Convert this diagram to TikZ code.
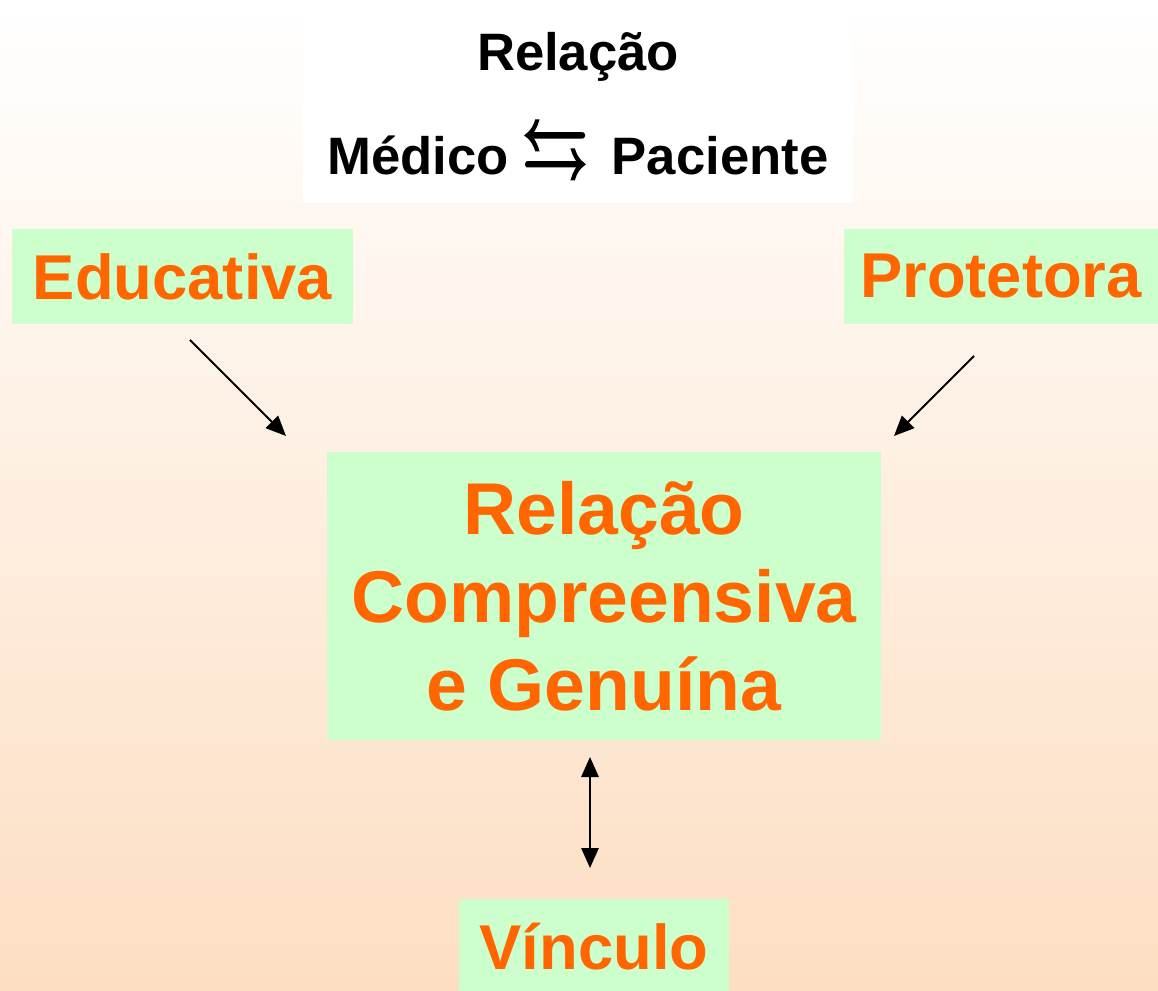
\documentclass[tikz,border=0pt]{standalone}
\usepackage{amssymb}
\usepackage{fontspec}
\setmainfont{Liberation Sans}
\usetikzlibrary{arrows.meta}
\definecolor{peach}{RGB}{253,222,194}
\definecolor{mint}{RGB}{204,255,204}
\definecolor{tangerine}{RGB}{255,102,0}
\tikzstyle{tile} = [fill=mint, inner sep=0pt, text=tangerine, font=\bfseries,
                    text centered]
\tikzstyle{side} = [tile, minimum height=71.25pt,
                    font=\fontsize{47.5}{57}\selectfont\bfseries]
\newcommand{\swap}{\raisebox{-3pt}[0pt][0pt]{%
  \resizebox{49pt}{44pt}{\special{pdf:literal direct 2 Tr 1.3 w}%
    $\leftrightarrows$\special{pdf:literal direct 0 Tr}}}}

\begin{document}
\begin{tikzpicture}[x=0.75pt, y=-0.75pt, line width=1.5pt,
                    >={Triangle[length=15pt,width=13pt]}]

% background
\shade[top color=white, bottom color=peach] (0,0) rectangle (1158,991);
\useasboundingbox (0,0) rectangle (1158,991);

% add nodes
\node [fill=white, inner sep=0pt, minimum width=412.5pt, minimum height=148.5pt,
       align=center, font=\fontsize{39.5}{78}\selectfont\bfseries]
      (title) at (578,104)
      {Relação\\Médico\hspace{10pt}\swap\hspace{18pt}Paciente};

\node [side, minimum width=255.75pt] (edu) at (182.5,276.5) {Educativa};
\node [side, minimum width=235.5pt]  (pro) at (1001,276.5) {Protetora};

\node [tile, minimum width=415.5pt, minimum height=216pt, align=center,
       font=\fontsize{55}{66}\selectfont\bfseries]
      (rel) at (604,596) {Relação\\Compreensiva\\e Genuína};

\node [side, minimum width=202.5pt, minimum height=72pt] (vin) at (594,947)
      {Vínculo};

% arrow ends
\coordinate (edu-out) at (190,340);
\coordinate (rel-in-l) at (286,436);
\coordinate (pro-out) at (974,356);
\coordinate (rel-in-r) at (894,436);
\coordinate (rel-out) at (590,757);
\coordinate (vin-in) at (590,868);

% add connections
\draw[->] (edu-out) -- (rel-in-l);
\draw[->] (pro-out) -- (rel-in-r);
\draw[<->] (rel-out) -- (vin-in);

\end{tikzpicture}
\end{document}
